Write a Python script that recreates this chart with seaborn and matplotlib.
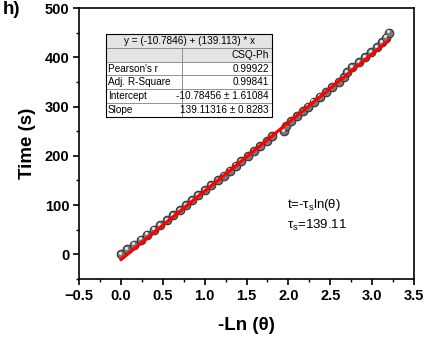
import matplotlib
matplotlib.use("Agg")
import matplotlib.pyplot as plt
import seaborn as sns
import numpy as np
import pandas as pd
from matplotlib.ticker import MultipleLocator
from matplotlib.patches import Rectangle

# ---- data ----
time_s = [0, 10, 20, 30, 40, 50, 60, 70, 80, 90, 100, 110, 120, 130, 140, 150,
          160, 170, 180, 190, 200, 210, 220, 230, 240, 250, 260, 270, 280, 290,
          300, 310, 320, 330, 340, 350, 360, 370, 380, 390, 400, 410, 420, 430,
          440, 450]
neg_ln_theta = [0.000, 0.078, 0.156, 0.236, 0.315, 0.394, 0.473, 0.545, 0.624,
                0.703, 0.775, 0.854, 0.926, 1.005, 1.077, 1.156, 1.228, 1.307,
                1.371, 1.436, 1.515, 1.587, 1.666, 1.745, 1.810, 1.945, 1.975,
                2.030, 2.100, 2.170, 2.240, 2.300, 2.375, 2.450, 2.515, 2.600,
                2.665, 2.700, 2.765, 2.840, 2.920, 2.985, 3.060, 3.120, 3.170,
                3.200]
fit_intercept = -10.78456
fit_slope = 139.11316
fit_x = [0.0, 3.2]
table_rows = ["Pearson's r", "Adj. R-Square", "Intercept", "Slope"]
table_vals = ["0.99922", "0.99841", "-10.78456 \u00b1 1.61084", "139.11316 \u00b1 0.8283"]
x_ticks = [-0.5, 0.0, 0.5, 1.0, 1.5, 2.0, 2.5, 3.0, 3.5]
y_ticks = [0, 100, 200, 300, 400, 500]

df = pd.DataFrame({"x": neg_ln_theta, "t": time_s})
fit_df = pd.DataFrame({"x": fit_x, "t": [fit_intercept + fit_slope * v for v in fit_x]})

sns.set_theme(style="ticks")
plt.rcParams['font.family'] = ['Liberation Sans', 'DejaVu Sans']
plt.rcParams.update({"text.color": "black", "axes.labelcolor": "black",
                     "xtick.color": "black", "ytick.color": "black",
                     "axes.edgecolor": "black"})

fig = plt.figure(figsize=(4.29, 3.47), dpi=100)
ax = fig.add_axes([79/429, 1-279/347, (414-79)/429, (279-8)/347])

sns.scatterplot(data=df, x="x", y="t", ax=ax, s=38, color="#777777",
                edgecolor="#333333", linewidth=0.8, zorder=3, legend=False)
# highlight on spheres
ax.scatter(np.array(neg_ln_theta) - 0.012, np.array(time_s) + 2.5, s=5,
           color="#e6e6e6", linewidths=0, zorder=4)
sns.lineplot(data=fit_df, x="x", y="t", ax=ax, color="#ff0000", linewidth=2.3,
             zorder=5, legend=False)

ax.set_xlim(-0.5, 3.5)
ax.set_ylim(-50, 500)
ax.set_xticks(x_ticks)
ax.set_yticks(y_ticks)
ax.xaxis.set_minor_locator(MultipleLocator(0.25))
ax.yaxis.set_minor_locator(MultipleLocator(50))
ax.tick_params(which="major", direction="out", length=4, width=1.2, color="black",
               labelsize=10.5, pad=3, labelcolor="black")
ax.tick_params(which="minor", direction="out", length=2.5, width=1.0, color="black")
for lab in ax.get_xticklabels() + ax.get_yticklabels():
    lab.set_fontweight("bold")
for sp in ax.spines.values():
    sp.set_visible(True)
    sp.set_linewidth(1.2)
    sp.set_color("black")

ax.set_xlabel("-Ln (\u03b8)", fontsize=13.5, fontweight="bold", labelpad=10)
ax.set_ylabel("Time (s)", fontsize=13.5, fontweight="bold", labelpad=6)

fig.text(3/429, 1-9/347, "h)", fontsize=13.5, fontweight="bold", va="center", ha="left")

# annotation
ax.text(0.622, 0.273, "t=-\u03c4$_\\mathregular{s}$ln(\u03b8)", transform=ax.transAxes,
        fontsize=9.5, ha="left", va="center")
ax.text(0.622, 0.199, "\u03c4$_\\mathregular{s}$=139.11", transform=ax.transAxes,
        fontsize=9.5, ha="left", va="center")

# statistics table
left, right, mid = 106, 272, 182
top = 34
row_h = 13.8
def fx(px):
    return px / 429
def fy(py):
    return 1 - py / 347
rows_y = [top + i * row_h for i in range(7)]
fig.patches.append(Rectangle((fx(left), fy(rows_y[2])), fx(right) - fx(left),
                             fy(rows_y[0]) - fy(rows_y[2]), transform=fig.transFigure,
                             facecolor="#e4e4e4", edgecolor="none", zorder=10))
fig.patches.append(Rectangle((fx(left), fy(rows_y[6])), fx(right) - fx(left),
                             fy(rows_y[2]) - fy(rows_y[6]), transform=fig.transFigure,
                             facecolor="white", edgecolor="none", zorder=10))
line_kw = dict(transform=fig.transFigure, color="#808080", linewidth=0.6, zorder=11)
for yy in rows_y:
    fig.add_artist(plt.Line2D([fx(left), fx(right)], [fy(yy), fy(yy)], **line_kw))
fig.add_artist(plt.Line2D([fx(mid), fx(mid)], [fy(rows_y[1]), fy(rows_y[6])], **line_kw))
outer_kw = dict(transform=fig.transFigure, color="black", linewidth=0.8, zorder=12)
fig.add_artist(plt.Line2D([fx(left), fx(left)], [fy(rows_y[0]), fy(rows_y[6])], **outer_kw))
fig.add_artist(plt.Line2D([fx(right), fx(right)], [fy(rows_y[0]), fy(rows_y[6])], **outer_kw))
fig.add_artist(plt.Line2D([fx(left), fx(right)], [fy(rows_y[0]), fy(rows_y[0])], **outer_kw))
fig.add_artist(plt.Line2D([fx(left), fx(right)], [fy(rows_y[6]), fy(rows_y[6])], **outer_kw))

tfs = 7.2
fig.text(fx((left + right) / 2), fy(rows_y[0] + row_h / 2),
         f"y = ({fit_intercept:.4f}) + ({fit_slope:.3f}) * x", fontsize=tfs,
         ha="center", va="center", zorder=13)
fig.text(fx(right - 3), fy(rows_y[1] + row_h / 2), "CSQ-Ph", fontsize=tfs,
         ha="right", va="center", zorder=13)
for i, (nm, vv) in enumerate(zip(table_rows, table_vals)):
    yc = rows_y[2 + i] + row_h / 2
    fig.text(fx(left + 2), fy(yc), nm, fontsize=tfs, ha="left", va="center", zorder=13)
    fig.text(fx(right - 3), fy(yc), vv, fontsize=tfs, ha="right", va="center", zorder=13)

fig.savefig("out.png", dpi=100)
